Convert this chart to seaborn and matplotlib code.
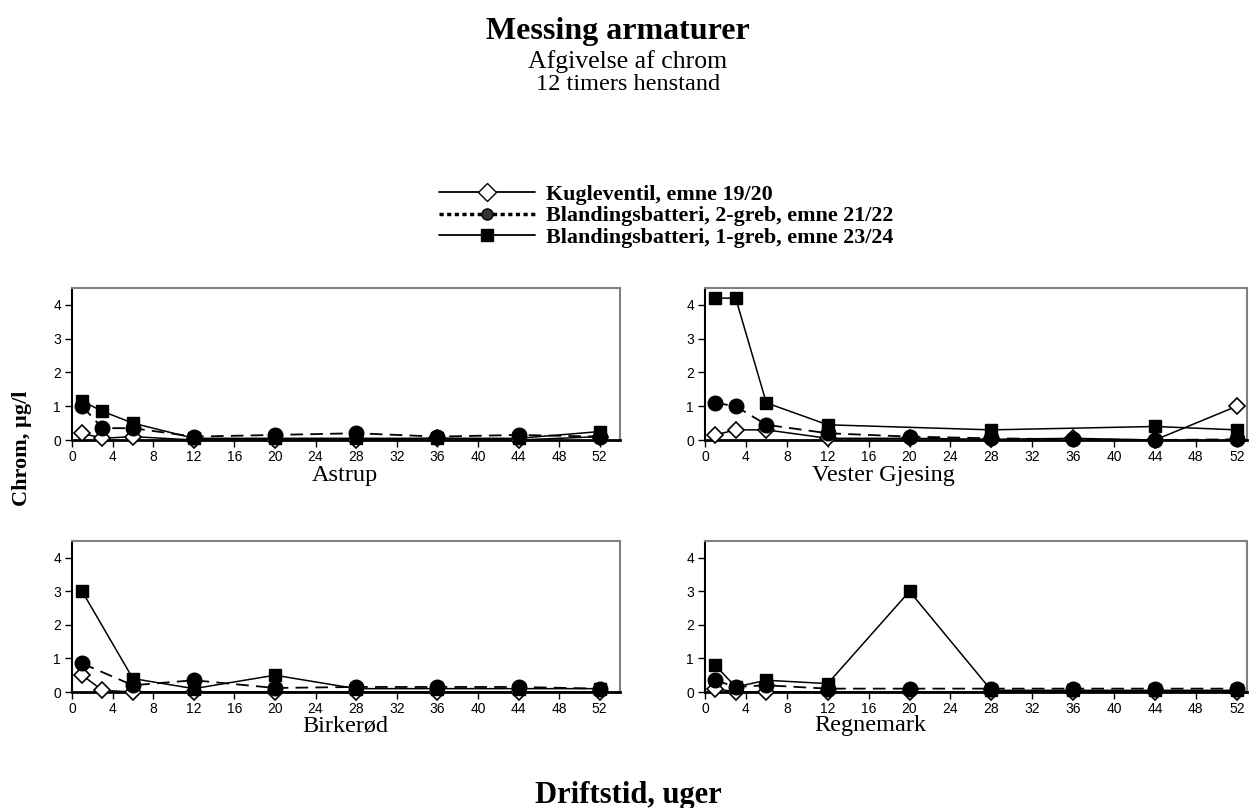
import numpy as np
import pandas as pd
import matplotlib
matplotlib.use("Agg")
import matplotlib.pyplot as plt
from matplotlib.lines import Line2D
import seaborn as sns

# ---------------- data ----------------
weeks = [1, 3, 6, 12, 20, 28, 36, 44, 52]
series_names = ["Kugleventil, emne 19/20",
                "Blandingsbatteri, 2-greb, emne 21/22",
                "Blandingsbatteri, 1-greb, emne 23/24"]
sites = ["Astrup", "Vester Gjesing", "Birkerød", "Regnemark"]

astrup_kugle = [0.2, 0.05, 0.1, 0.0, 0.0, 0.0, 0.05, 0.0, 0.1]
astrup_2greb = [1.0, 0.35, 0.35, 0.1, 0.15, 0.2, 0.1, 0.15, 0.1]
astrup_1greb = [1.15, 0.85, 0.5, 0.05, 0.05, 0.05, 0.05, 0.05, 0.25]

vg_kugle = [0.15, 0.3, 0.3, 0.05, 0.05, 0.02, 0.05, 0.0, 1.0]
vg_2greb = [1.1, 1.0, 0.45, 0.2, 0.1, 0.05, 0.02, 0.0, 0.02]
vg_1greb = [4.2, 4.2, 1.1, 0.45, np.nan, 0.3, np.nan, 0.4, 0.3]

birk_kugle = [0.5, 0.05, 0.0, 0.0, 0.0, 0.0, 0.0, 0.0, 0.0]
birk_2greb = [0.85, np.nan, 0.2, 0.35, 0.12, 0.15, 0.15, 0.15, 0.1]
birk_1greb = [3.0, np.nan, 0.4, 0.1, 0.5, 0.1, 0.1, 0.1, 0.1]

regn_kugle = [0.1, 0.0, 0.0, 0.0, 0.0, 0.0, 0.0, 0.0, 0.0]
regn_2greb = [0.35, 0.15, 0.2, 0.1, 0.1, 0.1, 0.1, 0.1, 0.1]
regn_1greb = [0.8, 0.15, 0.35, 0.25, 3.0, 0.05, 0.05, 0.05, 0.05]

site_data = {
    "Astrup": [astrup_kugle, astrup_2greb, astrup_1greb],
    "Vester Gjesing": [vg_kugle, vg_2greb, vg_1greb],
    "Birkerød": [birk_kugle, birk_2greb, birk_1greb],
    "Regnemark": [regn_kugle, regn_2greb, regn_1greb],
}
xticks = list(range(0, 53, 4))
yticks = [0, 1, 2, 3, 4]

# ---------------- style ----------------
sns.set_theme(style="white")
plt.rcParams["font.family"] = ["Liberation Sans", "DejaVu Sans"]
plt.rcParams["text.color"] = "black"
plt.rcParams["axes.labelcolor"] = "black"
plt.rcParams["xtick.color"] = "black"
plt.rcParams["ytick.color"] = "black"
SERIF = ["Liberation Serif", "DejaVu Serif"]

W, H = 1257, 808
fig = plt.figure(figsize=(W / 100, H / 100), dpi=100)
fig.patch.set_facecolor("white")

def rect(l, r, t, b):
    return [l / W, (H - b) / H, (r - l) / W, (b - t) / H]

rects = {
    "Astrup": rect(72, 620, 288, 440),
    "Vester Gjesing": rect(705, 1247, 288, 440),
    "Birkerød": rect(72, 620, 541, 692),
    "Regnemark": rect(705, 1247, 541, 692),
}
xmax = {"Astrup": 54, "Vester Gjesing": 53, "Birkerød": 54, "Regnemark": 53}
label_pos = {"Astrup": (345, 476), "Vester Gjesing": (883, 476),
             "Birkerød": (345, 726), "Regnemark": (870, 726)}

styles = [
    dict(marker="D", markerfacecolor="white", markeredgecolor="black",
         markersize=8, markeredgewidth=1.2, linestyle="-", linewidth=1.1),
    dict(marker="o", markerfacecolor="black", markeredgecolor="black",
         markersize=10.5, linestyle=(0, (7, 4)), linewidth=1.3),
    dict(marker="s", markerfacecolor="black", markeredgecolor="black",
         markersize=9, linestyle="-", linewidth=1.1),
]
draw_order = [0, 2, 1]

for site in sites:
    ax = fig.add_axes(rects[site])
    for i in draw_order:
        vals = site_data[site][i]
        df = pd.DataFrame({"week": weeks, "value": vals}).dropna()
        st = styles[i]
        sns.lineplot(data=df, x="week", y="value", ax=ax, color="black",
                     sort=False, estimator=None,
                     marker=st["marker"], markersize=st["markersize"],
                     markerfacecolor=st["markerfacecolor"],
                     markeredgecolor=st["markeredgecolor"],
                     markeredgewidth=st.get("markeredgewidth", 1.0),
                     linestyle=st["linestyle"], linewidth=st["linewidth"],
                     clip_on=False, zorder=3 + i)
    ax.set_xlim(0, xmax[site])
    ax.set_ylim(0, 4.5)
    ax.set_xticks(xticks)
    ax.set_yticks(yticks)
    ax.set_xlabel("")
    ax.set_ylabel("")
    ax.grid(False)
    for s in ["top", "right"]:
        ax.spines[s].set_color("#808080")
        ax.spines[s].set_linewidth(1.5)
    ax.spines["left"].set_color("black")
    ax.spines["left"].set_linewidth(1.5)
    ax.spines["bottom"].set_color("black")
    ax.spines["bottom"].set_linewidth(2)
    ax.tick_params(axis="both", direction="out", length=5, width=1,
                   colors="black", labelsize=10, pad=3,
                   bottom=True, left=True)
    ax.tick_params(axis="x", pad=2.5)
    lx, ly = label_pos[site]
    fig.text(lx / W, 1 - ly / H, site, ha="center", va="center",
             family=SERIF, fontsize=17.5, color="black")

# titles
fig.text(618 / W, 1 - 31 / H, "Messing armaturer", ha="center", va="center",
         family=SERIF, fontsize=23, fontweight="bold", color="black")
fig.text(628 / W, 1 - 62 / H, "Afgivelse af chrom", ha="center", va="center",
         family=SERIF, fontsize=18.5, color="black")
fig.text(628 / W, 1 - 85 / H, "12 timers henstand", ha="center", va="center",
         family=SERIF, fontsize=17.5, color="black")

# axis titles
fig.text(22 / W, 1 - 448 / H, "Chrom, µg/l", rotation=90, ha="center",
         va="center", family=SERIF, fontsize=16, fontweight="bold",
         color="black")
fig.text(628 / W, 1 - 796 / H, "Driftstid, uger", ha="center", va="center",
         family=SERIF, fontsize=22, fontweight="bold", color="black")

# legend
handles = [
    Line2D([], [], color="black", marker="D", markerfacecolor="white",
           markeredgecolor="black", markersize=9, linewidth=1.3),
    Line2D([], [], color="black", marker="o", markerfacecolor="#333333",
           markersize=8, linestyle=(0, (1.2, 1.0)), linewidth=2.5),
    Line2D([], [], color="black", marker="s", markerfacecolor="black",
           markersize=8, linewidth=1.3),
]
leg = fig.legend(handles, series_names, loc="center",
                 bbox_to_anchor=(666 / W, 1 - 216 / H), frameon=False,
                 handlelength=4.4, handletextpad=0.5, labelspacing=0.05,
                 borderpad=0.1, labelcolor="black",
                 prop={"family": SERIF, "weight": "bold", "size": 15.8})

fig.savefig("out.png", dpi=100, facecolor="white")
